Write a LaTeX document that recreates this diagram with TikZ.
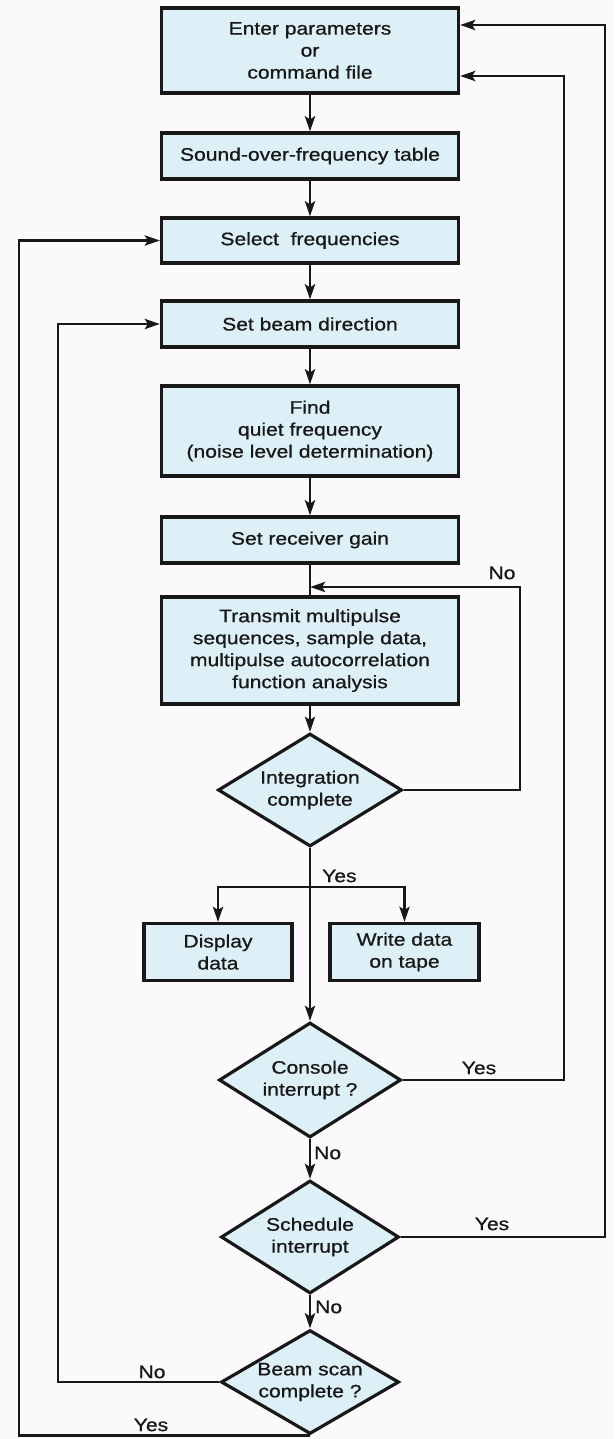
\documentclass[tikz,border=0pt]{standalone}
\usepackage{fontspec}
\setmainfont{Liberation Sans}[FakeStretch=1.17,FakeBold=0.8]
\usetikzlibrary{shapes.geometric,arrows.meta,calc}
\definecolor{boxfill}{RGB}{221,240,247}
\definecolor{ink}{RGB}{24,24,24}
\definecolor{paper}{RGB}{252,249,252}
\begin{document}
\begin{tikzpicture}[x=1pt,y=-1pt,
  txt/.style={font=\fontsize{18}{22}\selectfont, text=ink},
  box/.style={txt, draw=ink, fill=boxfill, line width=3.2pt, align=center, inner sep=0pt, minimum width=297pt},
  dec/.style={txt, shape=diamond, aspect=1.65, draw=ink, fill=boxfill, line width=3.2pt, align=center, inner sep=-12pt},
  conn/.style={draw=ink, line width=2.9pt},
  arr/.style={conn, -{Stealth[length=15pt,width=10pt,inset=3pt]}},
  lbl/.style={txt, inner sep=0pt}]
\fill[paper] (0,0) rectangle (614,1439);
\useasboundingbox (0,0) rectangle (614,1439);

% process boxes
\node[box, minimum height=85pt] (B1) at (310,50.5) {Enter parameters\\or\\command file};
\node[box, minimum height=46pt] (B2) at (310,156) {Sound-over-frequency table};
\node[box, minimum height=45pt] (B3) at (310,240.5) {Select~~frequencies};
\node[box, minimum height=46pt] (B4) at (310,324) {Set beam direction};
\node[box, minimum height=90pt] (B5) at (310,431) {Find\\quiet frequency\\(noise level determination)};
\node[box, minimum height=46pt] (B6) at (310,540) {Set receiver gain};
\node[box, minimum height=107pt] (B7) at (310,650.5) {Transmit multipulse\\sequences, sample data,\\multipulse autocorrelation\\function analysis};
\node[box, minimum width=148pt, minimum height=57pt] (Disp) at (218,952) {Display\\data};
\node[box, minimum width=149pt, minimum height=57pt] (Write) at (404.5,952) {Write data\\on tape};

% decisions
\node[dec, minimum width=184pt, minimum height=113pt] (D1) at (310,790) {Integration\\complete};
\node[dec, minimum width=182pt, minimum height=115pt] (D2) at (310,1080) {Console\\interrupt ?};
\node[dec, minimum width=178pt, minimum height=113pt] (D3) at (310,1237) {Schedule\\interrupt};
\node[dec, minimum width=178pt, minimum height=104pt] (D4) at (310,1382) {Beam scan\\complete ?};

% helper coordinates
\coordinate (xNo) at (520,0);
\coordinate (xR1) at (564,0);
\coordinate (xR2) at (605,0);
\coordinate (xL1) at (58,0);
\coordinate (xL2) at (19,0);
\coordinate (jNo) at (310,587);
\coordinate (jBr) at (310,887);

% main flow
\draw[arr] (B1) -- (B2);
\draw[arr] (B2) -- (B3);
\draw[arr] (B3) -- (B4);
\draw[arr] (B4) -- (B5);
\draw[arr] (B5) -- (B6);
\draw[conn] (B6) -- (B7);
\draw[arr] (B7) -- (D1);
\draw[arr] (D1) -- (D2);
\draw[arr] (jBr) -| (Disp.north);
\draw[arr] (jBr) -| (Write.north);
\draw[arr] (D2) -- (D3);
\draw[arr] (D3) -- (D4);

% loops
\draw[arr] (D1.east) -- (D1.east -| xNo) |- (jNo);
\draw[arr] (D2.east) -- (D2.east -| xR1) |- ([yshift=-25.5pt]B1.east);
\draw[arr] (D3.east) -- (D3.east -| xR2) |- ([yshift=25.5pt]B1.east);
\draw[arr] (D4.west) -- (D4.west -| xL1) |- (B4.west);
\draw[arr] (D4.south) -- (D4.south -| xL2) |- (B3.west);

% labels
\node[lbl] (lNo1) at (502,573) {No};
\node[lbl, anchor=west] (lYes1) at (322,876) {Yes};
\node[lbl] (lYes2) at (479,1068) {Yes};
\node[lbl, anchor=west] (lNo2) at (314,1153) {No};
\node[lbl] (lYes3) at (492,1224) {Yes};
\node[lbl, anchor=west] (lNo3) at (315,1307) {No};
\node[lbl] (lNo4) at (152,1372) {No};
\node[lbl] (lYes4) at (151,1425) {Yes};
\end{tikzpicture}
\end{document}
